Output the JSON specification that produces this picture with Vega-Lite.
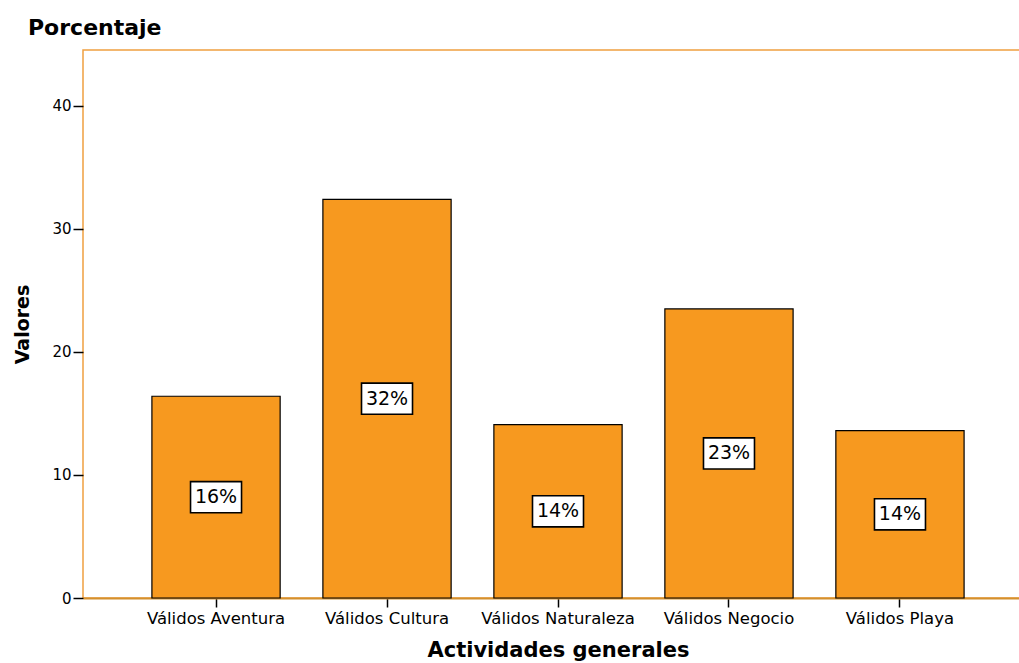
{
  "$schema": "https://vega.github.io/schema/vega-lite/v6.json",
  "width": 950,
  "height": 548,
  "autosize": {"type": "none"},
  "padding": {"left": 83, "top": 50, "right": 0, "bottom": 65},
  "background": "white",
  "config": {
    "view": {"stroke": "#F0A040", "strokeWidth": 1.5},
    "font": "DejaVu Sans"
  },
  "title": {
    "text": "Porcentaje",
    "anchor": "start",
    "frame": "group",
    "dx": -55,
    "offset": -7,
    "baseline": "alphabetic",
    "font": "DejaVu Sans",
    "fontSize": 22,
    "fontWeight": "bold",
    "color": "black"
  },
  "data": {
    "values": [
      {"actividad": "Válidos Aventura", "valor": 16.4, "etiqueta": "16%"},
      {"actividad": "Válidos Cultura", "valor": 32.4, "etiqueta": "32%"},
      {"actividad": "Válidos Naturaleza", "valor": 14.1, "etiqueta": "14%"},
      {"actividad": "Válidos Negocio", "valor": 23.5, "etiqueta": "23%"},
      {"actividad": "Válidos Playa", "valor": 13.6, "etiqueta": "14%"}
    ]
  },
  "encoding": {
    "x": {
      "field": "actividad",
      "type": "nominal",
      "sort": null,
      "scale": {"paddingInner": 0.25, "paddingOuter": 0.403},
      "axis": {
        "title": "Actividades generales",
        "titleFont": "DejaVu Sans",
        "titleFontSize": 21,
        "titleFontWeight": "bold",
        "titleColor": "black",
        "titleY": 58,
        "titleBaseline": "alphabetic",
        "labelAngle": 0,
        "labelFont": "DejaVu Sans",
        "labelFontSize": 16.5,
        "labelColor": "black",
        "labelPadding": 3,
        "tickSize": 9,
        "tickColor": "black",
        "tickWidth": 1.5,
        "domainColor": "#D4902E",
        "domainWidth": 2,
        "grid": false
      }
    }
  },
  "layer": [
    {
      "mark": {"type": "bar", "fill": "#F7991F", "stroke": "black", "strokeWidth": 1.2},
      "encoding": {
        "y": {
          "field": "valor",
          "type": "quantitative",
          "scale": {"domain": [0, 44.55], "nice": false},
          "axis": {
            "title": "Valores",
            "titleFont": "DejaVu Sans",
            "titleFontSize": 19,
            "titleFontWeight": "bold",
            "titleColor": "black",
            "titleX": -61,
            "titleY": 274,
            "titleBaseline": "middle",
            "values": [0, 10, 20, 30, 40],
            "labelFont": "DejaVu Sans",
            "labelFontSize": 15,
            "labelColor": "black",
            "labelPadding": 2,
            "tickSize": 10,
            "tickColor": "black",
            "tickWidth": 1.5,
            "domain": false,
            "grid": false
          }
        }
      }
    },
    {
      "layer": [
        {
          "mark": {"type": "point", "shape": "M-1,-0.61H1V0.61H-1Z", "filled": true, "fill": "white", "stroke": "black", "strokeWidth": 1.6, "size": 2601, "opacity": 1},
          "encoding": {
            "y": {"field": "valor", "type": "quantitative", "scale": {"domain": [0, 89.1], "nice": false}, "axis": null}
          }
        },
        {
          "mark": {"type": "text", "font": "DejaVu Sans", "fontSize": 19, "color": "black", "baseline": "middle", "align": "center"},
          "encoding": {
            "y": {"field": "valor", "type": "quantitative", "scale": {"domain": [0, 89.1], "nice": false}, "axis": null},
            "text": {"field": "etiqueta"}
          }
        }
      ]
    }
  ],
  "resolve": {"scale": {"y": "independent"}}
}
